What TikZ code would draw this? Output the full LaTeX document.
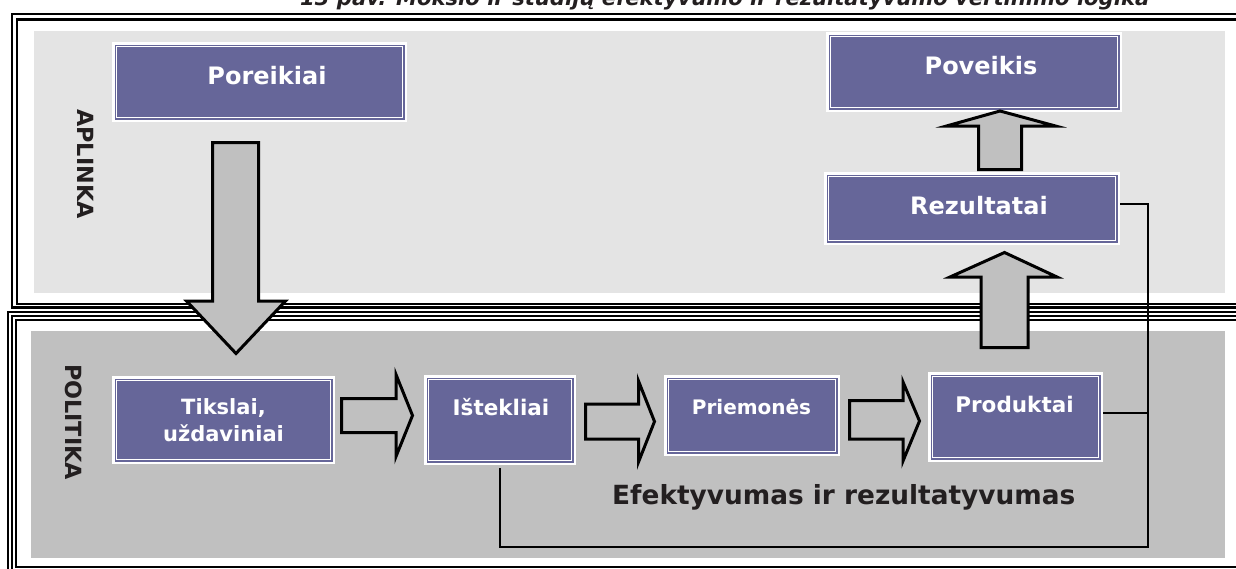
\documentclass[tikz,border=0pt]{standalone}
\usepackage{fontspec}
\setmainfont{DejaVu Sans}
\usepackage{graphicx}
\definecolor{boxc}{HTML}{666699}
\definecolor{envgray}{HTML}{E4E4E4}
\definecolor{polgray}{HTML}{C0C0C0}
\definecolor{arrgray}{HTML}{C0C0C0}
\definecolor{txtdark}{HTML}{231F20}
\tikzset{
  pbox/.style={rectangle, inner sep=0pt, fill=boxc, draw=white, line width=2.5pt,
    path picture={\draw[white, line width=1pt]
      ([shift={(3.6pt,-3.6pt)}]path picture bounding box.north west) rectangle
      ([shift={(-3.6pt,3.6pt)}]path picture bounding box.south east);}},
  btext/.style={inner sep=0pt, text=white, font=\bfseries, anchor=base},
  barrow/.style={draw=black, line width=3pt, fill=arrgray, line join=miter, miter limit=10},
  hollow/.style={draw=black, line width=3pt, fill=polgray, line join=miter, miter limit=10},
  conn/.style={draw=black, line width=2pt},
  fline/.style={draw=black, line width=2.2pt},
  fthin/.style={draw=black, line width=1.5pt},
  side/.style={inner sep=0pt, text=txtdark, font=\bfseries\fontsize{22.3}{26}\selectfont, rotate=-90}
}
\begin{document}
\begin{tikzpicture}[x=1pt, y=-1pt]
\useasboundingbox[fill=white] (0,0) rectangle (1236,568);

% title (cut by the top edge, as in the reference)
\node[inner sep=0pt, anchor=base west, text=txtdark] (title) at (300,5)
  {\resizebox{849pt}{!}{\bfseries\itshape 13 pav. Mokslo ir studijų efektyvumo ir rezultatyvumo vertinimo logika}};

% frames (right and lower edges run off the picture)
\draw[fline] (11.8,14) rectangle (1270,307.5);
\draw[fline] (16.8,19.5) rectangle (1265,304);
\draw[fthin] (8,312) rectangle (1280,590);
\draw[fline] (12.3,316) rectangle (1275,585);
\draw[fthin] (16,320) rectangle (1270,567);

% backgrounds
\fill[envgray] (34,31) rectangle (1225,293);
\fill[polgray] (31,331) rectangle (1225,558);

% side labels
\node[side] (aplinka) at (86,164) {APLINKA};
\node[side] (politika) at (73.5,422) {POLITIKA};

% boxes
\node[pbox, minimum width=292.5pt, minimum height=77.5pt] (por) at (259.5,82) {};
\node[pbox, minimum width=293.5pt, minimum height=77.5pt] (pov) at (974,72) {};
\node[pbox, minimum width=293.5pt, minimum height=70.5pt] (rez) at (972,208.5) {};
\node[pbox, minimum width=220.5pt, minimum height=85.5pt] (tik) at (223.5,420) {};
\node[pbox, minimum width=149.5pt, minimum height=87.5pt] (ist) at (500,420) {};
\node[pbox, minimum width=173.5pt, minimum height=78.5pt] (pri) at (752,415.5) {};
\node[pbox, minimum width=172.5pt, minimum height=87.5pt] (prod) at (1015.5,417) {};

% connectors
\coordinate (corner) at (1148,547);
\draw[conn] ([yshift=5pt]rez.east) -| (corner) -| ([yshift=-3pt]ist.south);
\draw[conn] ([yshift=4pt]prod.east) -- ([yshift=4pt]prod.east -| corner);

% block arrows
\draw[barrow] (212.5,142.5) -- (258.5,142.5) -- (258.5,301) -- (285.5,301) -- (236,353.5)
  -- (186.5,301) -- (212.5,301) -- cycle;
\draw[barrow] (978.5,169.5) -- (1021.5,169.5) -- (1021.5,126) -- (1055.5,126) -- (1000,111)
  -- (946.5,126) -- (978.5,126) -- cycle;
\draw[barrow] (981,347.5) -- (1028,347.5) -- (1028,277) -- (1057,277) -- (1004.5,252.5)
  -- (950,277) -- (981,277) -- cycle;
\draw[hollow] (341.5,398.5) -- (396,398.5) -- (396,374.5) -- (412.5,415.5) -- (396,456.5)
  -- (396,432.5) -- (341.5,432.5) -- cycle;
\draw[hollow] (585.5,404) -- (638.5,404) -- (638.5,381) -- (654.5,421.5) -- (638.5,462)
  -- (638.5,439) -- (585.5,439) -- cycle;
\draw[hollow] (849.5,400.5) -- (903,400.5) -- (903,382) -- (919.5,421) -- (903,461)
  -- (903,439) -- (849.5,439) -- cycle;

% box texts
\node[btext, font=\bfseries\fontsize{24}{28}\selectfont] (tpor) at (267,84) {Poreikiai};
\node[btext, font=\bfseries\fontsize{24}{28}\selectfont] (tpov) at (981,74) {Poveikis};
\node[btext, font=\bfseries\fontsize{24}{28}\selectfont] (trez) at (979,214) {Rezultatai};
\node[btext, anchor=center, align=center, font=\bfseries\fontsize{21}{26.7}\selectfont] (ttik) at (223.5,420.5) {Tikslai,\\uždaviniai};
\node[btext, font=\bfseries\fontsize{21.5}{26}\selectfont] (tist) at (501,415) {Ištekliai};
\node[btext, font=\bfseries\fontsize{20}{24}\selectfont] (tpri) at (751.5,414.3) {Priemonės};
\node[btext, font=\bfseries\fontsize{21.5}{26}\selectfont] (tprod) at (1014.5,412.3) {Produktai};

% efficiency label
\node[inner sep=0pt, anchor=base west, text=txtdark] (eff) at (612,504)
  {\resizebox{463pt}{!}{\bfseries\fontsize{24}{28}\selectfont Efektyvumas ir rezultatyvumas}};
\end{tikzpicture}
\end{document}
